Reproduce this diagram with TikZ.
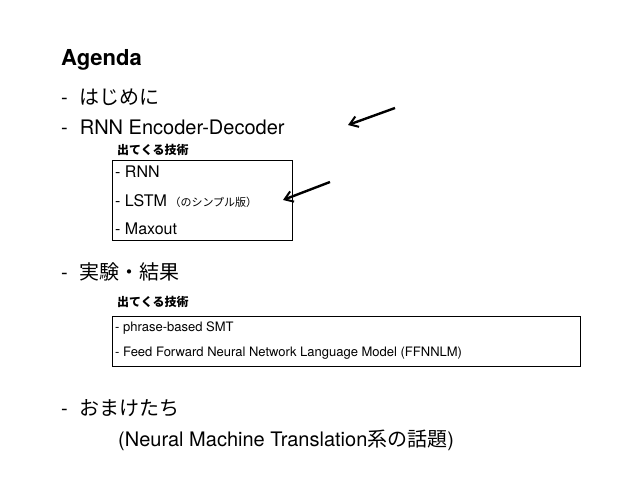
\documentclass[tikz,border=0pt]{standalone}
\usepackage{fontspec}
\setmainfont{TeX Gyre Heros}
\newfontfamily\jp{Noto Sans CJK JP}
\usepackage{tikz}
\usetikzlibrary{positioning, arrows.meta}

\tikzset{
  item/.style={anchor=west, inner sep=0pt, font=\fontsize{20}{24}\selectfont},
  sub/.style={anchor=west, inner sep=0pt, font=\fontsize{16}{19}\selectfont},
  small/.style={anchor=west, inner sep=0pt, font=\fontsize{13}{16}\selectfont},
  head/.style={anchor=west, inner sep=0pt, font=\jp\bfseries\fontsize{12}{14}\selectfont},
  pointer/.style={-{Straight Barb[length=8pt,width=11pt,line width=2pt]}, line width=2.4pt}
}

\begin{document}
\begin{tikzpicture}[x=1pt, y=-1pt]
\useasboundingbox (0,0) rectangle (638,479);

% title and items
\node[anchor=west, inner sep=0pt, font=\bfseries\fontsize{22}{26}\selectfont] (title) at (61,60) {Agenda};
\node[item] (intro) at (61,97) {-\hspace{12pt}{\jp はじめに}};
\node[item] (rnn) at (61,127) {-\hspace{12pt}RNN Encoder-Decoder};
\node[item] (exp) at (61,272) {-\hspace{12pt}{\jp 実験・結果}};
\node[item] (extra) at (61,408) {-\hspace{12pt}{\jp おまけたち}};
\node[item] (nmt) at (118,440) {(Neural Machine Translation{\jp 系の話題})};

% first box
\node[head] (techA) at (117,150) {出てくる技術};
\draw (112,160) rectangle (292,240);
\node[sub] (bRnn) at (115,172) {- RNN};
\node[sub] (bLstm) at (115,201) {- LSTM\,{\jp\fontsize{11}{13}\selectfont（のシンプル版）}};
\node[sub] (bMax) at (115,229) {- Maxout};

% second box
\node[head] (techB) at (117,302) {出てくる技術};
\draw (112,316) rectangle (580,366);
\node[small] (bSmt) at (115,328) {- phrase-based SMT};
\node[small] (bFf) at (115,353) {- Feed Forward Neural Network Language Model (FFNNLM)};

% arrows
\coordinate (a1) at (395,108);
\coordinate (a1e) at (348,125);
\coordinate (a2) at (330,182);
\coordinate (a2e) at (283,200);
\draw[pointer] (a1) -- (a1e);
\draw[pointer] (a2) -- (a2e);
\end{tikzpicture}
\end{document}
